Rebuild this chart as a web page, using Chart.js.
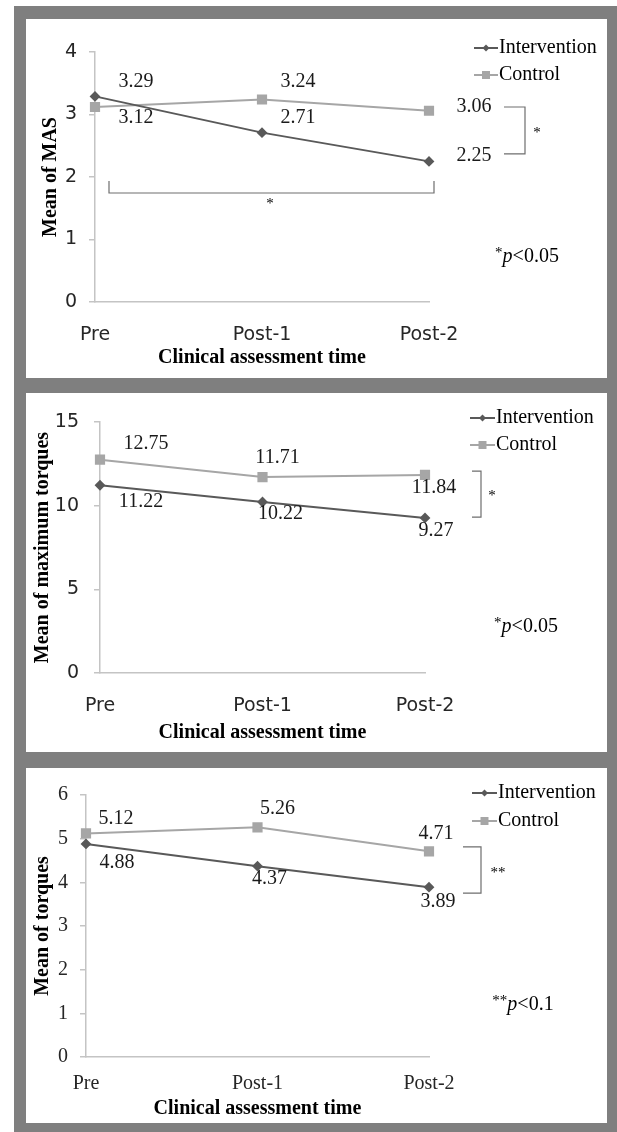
<!DOCTYPE html>
<html>
<head>
<meta charset="utf-8">
<script src="https://cdn.jsdelivr.net/npm/chart.js@4.4.1/dist/chart.umd.min.js"></script>
<style>
  body { margin: 0; background: #fff; }
  #frame { position: absolute; left: 14px; top: 6px; width: 603px; height: 1126px; background: #7f7f7f; }
  .panel { position: absolute; left: 26px; width: 581px; background: #fff; }
  canvas { display: block; }
</style>
</head>
<body>
<div id="frame"></div>
<div class="panel" style="top:19px;height:359px"><canvas id="mas" width="581" height="359" style="width:581px;height:359px"></canvas></div>
<div class="panel" style="top:393px;height:359px"><canvas id="maxTorque" width="581" height="359" style="width:581px;height:359px"></canvas></div>
<div class="panel" style="top:768px;height:355px"><canvas id="torque" width="581" height="355" style="width:581px;height:355px"></canvas></div>
<script>
// values
const times = ["Pre", "Post-1", "Post-2"];
const masIntervention = [3.29, 2.71, 2.25];
const masControl = [3.12, 3.24, 3.06];
const maxTorqueIntervention = [11.22, 10.22, 9.27];
const maxTorqueControl = [12.75, 11.71, 11.84];
const torqueIntervention = [4.88, 4.37, 3.89];
const torqueControl = [5.12, 5.26, 4.71];
const masTicks = [0, 1, 2, 3, 4];
const maxTorqueTicks = [0, 5, 10, 15];
const torqueTicks = [0, 1, 2, 3, 4, 5, 6];

const darkGrey = "#595959";
const lightGrey = "#a6a6a6";
const axisGrey = "#c4c4c4";
const serif = '"Liberation Serif", "Times New Roman", serif';
const sans = '"DejaVu Sans", sans-serif';

// draws legend, value labels, brackets and p-value note
const overlay = {
  id: "overlay",
  afterDatasetsDraw(chart) {
    const o = chart.options.plugins.overlay;
    const { ctx, chartArea } = chart;
    const x = chart.scales.x, y = chart.scales.y;
    ctx.save();

    // value labels
    ctx.font = "20px " + serif;
    ctx.fillStyle = "#1a1a1a";
    ctx.textAlign = "center";
    ctx.textBaseline = "middle";
    chart.data.datasets.forEach((ds, i) => {
      chart.getDatasetMeta(i).data.forEach((pt, j) => {
        const off = o.labelOffsets[i][j];
        ctx.fillText(ds.data[j].toFixed(2), pt.x + off[0], pt.y + off[1]);
      });
    });

    // legend
    chart.data.datasets.forEach((ds, i) => {
      const ly = chartArea.top + o.legend.dy[i];
      const x1 = chartArea.right + o.legend.dx[0];
      const x2 = chartArea.right + o.legend.dx[1];
      ctx.strokeStyle = ds.borderColor;
      ctx.lineWidth = 2;
      ctx.beginPath();
      ctx.moveTo(x1, ly);
      ctx.lineTo(x2, ly);
      ctx.stroke();
      const mx = (x1 + x2) / 2;
      ctx.fillStyle = ds.borderColor;
      ctx.beginPath();
      if (ds.pointStyle === "rect") {
        ctx.rect(mx - 4, ly - 4, 8, 8);
      } else {
        ctx.moveTo(mx, ly - 3.5); ctx.lineTo(mx + 3.5, ly);
        ctx.lineTo(mx, ly + 3.5); ctx.lineTo(mx - 3.5, ly);
        ctx.closePath();
      }
      ctx.fill();
      ctx.fillStyle = "#000";
      ctx.textAlign = "left";
      ctx.font = "20px " + serif;
      ctx.fillText(ds.label, x2 + 1, ly);
    });

    // brackets
    ctx.strokeStyle = "#6e6e6e";
    ctx.lineWidth = 1.2;
    ctx.fillStyle = "#000";
    ctx.textAlign = "center";
    o.brackets.forEach(b => {
      ctx.beginPath();
      if (b.type === "v") {
        const bx = x.getPixelForValue(b.at);
        const ya = y.getPixelForValue(b.from), yb = y.getPixelForValue(b.to);
        ctx.moveTo(bx + b.dx[0], ya); ctx.lineTo(bx + b.dx[1], ya);
        ctx.lineTo(bx + b.dx[1], yb); ctx.lineTo(bx + b.dx[0], yb);
        ctx.stroke();
        ctx.font = "15px " + serif;
        ctx.fillText(b.star, bx + b.starDx, y.getPixelForValue(b.starAt));
      } else {
        const xa = x.getPixelForValue(b.from) + b.dx[0];
        const xb = x.getPixelForValue(b.to) + b.dx[1];
        const yl = y.getPixelForValue(b.line), ye = y.getPixelForValue(b.end);
        ctx.moveTo(xa, ye); ctx.lineTo(xa, yl); ctx.lineTo(xb, yl); ctx.lineTo(xb, ye);
        ctx.stroke();
        ctx.font = "15px " + serif;
        ctx.fillText(b.star, x.getPixelForValue(b.starIdx) + b.starDx, y.getPixelForValue(b.starAt));
      }
    });

    // significance note: stars, italic p, rest
    const n = o.note;
    const parts = [
      { t: n.stars, f: "15px " + serif, dy: -4 },
      { t: "p", f: "italic 20px " + serif, dy: 0 },
      { t: n.rest, f: "20px " + serif, dy: 0 }
    ];
    let total = 0;
    parts.forEach(p => { ctx.font = p.f; p.w = ctx.measureText(p.t).width; total += p.w; });
    let nx = x.getPixelForValue(2) + n.dx - total / 2;
    const ny = y.getPixelForValue(n.at);
    ctx.textAlign = "left";
    parts.forEach(p => { ctx.font = p.f; ctx.fillText(p.t, nx, ny + p.dy); nx += p.w; });
    ctx.restore();
  }
};

function makeChart(id, cfg) {
  const canvas = document.getElementById(id);
  const H = canvas.height;
  return new Chart(canvas, {
    type: "line",
    data: {
      labels: times,
      datasets: [
        {
          label: "Intervention",
          data: cfg.intervention,
          borderColor: darkGrey,
          backgroundColor: darkGrey,
          borderWidth: 2,
          pointStyle: "rectRot",
          pointRadius: 4,
          tension: 0
        },
        {
          label: "Control",
          data: cfg.control,
          borderColor: lightGrey,
          backgroundColor: lightGrey,
          borderWidth: 2,
          pointStyle: "rect",
          pointRadius: 5.8,
          tension: 0
        }
      ]
    },
    options: {
      responsive: false,
      animation: false,
      layout: { padding: { left: 0, top: cfg.area.top, right: canvas.width - cfg.area.right, bottom: 0 } },
      plugins: {
        legend: { display: false },
        tooltip: { enabled: false },
        overlay: cfg.overlay
      },
      scales: {
        x: {
          offset: false,
          grid: { display: false },
          border: { color: axisGrey, width: 1.5 },
          ticks: { font: cfg.tickFont, color: "#262626", padding: cfg.xTickPad, maxRotation: 0 },
          title: {
            display: true,
            text: "Clinical assessment time",
            font: { family: serif, size: 20, weight: "bold" },
            color: "#000",
            padding: { top: 0, bottom: cfg.xTitlePad }
          },
          afterFit(s) { s.height = H - cfg.area.bottom; }
        },
        y: {
          min: cfg.ticks[0],
          max: cfg.ticks[cfg.ticks.length - 1],
          afterBuildTicks(s) { s.ticks = cfg.ticks.map(v => ({ value: v })); },
          grid: { drawOnChartArea: false, color: axisGrey, lineWidth: 1.5, tickLength: 6 },
          border: { color: axisGrey, width: 1.5 },
          ticks: { font: cfg.tickFont, color: "#262626", padding: cfg.yTickPad },
          title: {
            display: true,
            text: cfg.yTitle,
            font: { family: serif, size: 20, weight: "bold" },
            color: "#000",
            padding: { top: cfg.yTitlePad, bottom: 0 }
          },
          afterFit(s) { s.width = cfg.area.left; }
        }
      }
    },
    plugins: [overlay]
  });
}

makeChart("mas", {
  intervention: masIntervention,
  control: masControl,
  ticks: masTicks,
  yTitle: "Mean of MAS",
  area: { left: 69, right: 403, top: 33, bottom: 283 },
  tickFont: { family: sans, size: 19 },
  xTickPad: 14, yTickPad: 12, xTitlePad: 8, yTitlePad: 13,
  overlay: {
    labelOffsets: [[[41, -15], [36, -15], [45, -6]], [[41, 11], [36, -18], [45, -4]]],
    legend: { dx: [45, 69], dy: [-4, 23] },
    brackets: [
      { type: "v", at: 2, dx: [75, 96], from: 3.12, to: 2.37, star: "*", starDx: 108, starAt: 2.7 },
      { type: "h", from: 0, to: 2, dx: [14, 5], line: 1.744, end: 1.936, star: "*", starIdx: 1, starDx: 8, starAt: 1.57 }
    ],
    note: { stars: "*", rest: "<0.05", dx: 98, at: 0.72 }
  }
});

makeChart("maxTorque", {
  intervention: maxTorqueIntervention,
  control: maxTorqueControl,
  ticks: maxTorqueTicks,
  yTitle: "Mean of maximum torques",
  area: { left: 74, right: 399, top: 29, bottom: 280 },
  tickFont: { family: sans, size: 19 },
  xTickPad: 14, yTickPad: 15, xTitlePad: 7, yTitlePad: 5,
  overlay: {
    labelOffsets: [[[41, 16], [18, 12], [11, 13]], [[46, -16], [15, -19], [9, 13]]],
    legend: { dx: [45, 70], dy: [-4, 23] },
    brackets: [
      { type: "v", at: 2, dx: [47, 56], from: 12.07, to: 9.32, star: "*", starDx: 67, starAt: 10.58 }
    ],
    note: { stars: "*", rest: "<0.05", dx: 101, at: 2.75 }
  }
});

makeChart("torque", {
  intervention: torqueIntervention,
  control: torqueControl,
  ticks: torqueTicks,
  yTitle: "Mean of torques",
  area: { left: 60, right: 403, top: 27, bottom: 289 },
  tickFont: { family: serif, size: 20 },
  xTickPad: 7, yTickPad: 12, xTitlePad: 2, yTitlePad: 5,
  overlay: {
    labelOffsets: [[[31, 19], [12, 13], [9, 15]], [[30, -15], [20, -19], [7, -18]]],
    legend: { dx: [43, 68], dy: [-2, 26] },
    brackets: [
      { type: "v", at: 2, dx: [34, 52], from: 4.81, to: 3.755, star: "**", starDx: 69, starAt: 4.21 }
    ],
    note: { stars: "**", rest: "<0.1", dx: 94, at: 1.19 }
  }
});
</script>
</body>
</html>
